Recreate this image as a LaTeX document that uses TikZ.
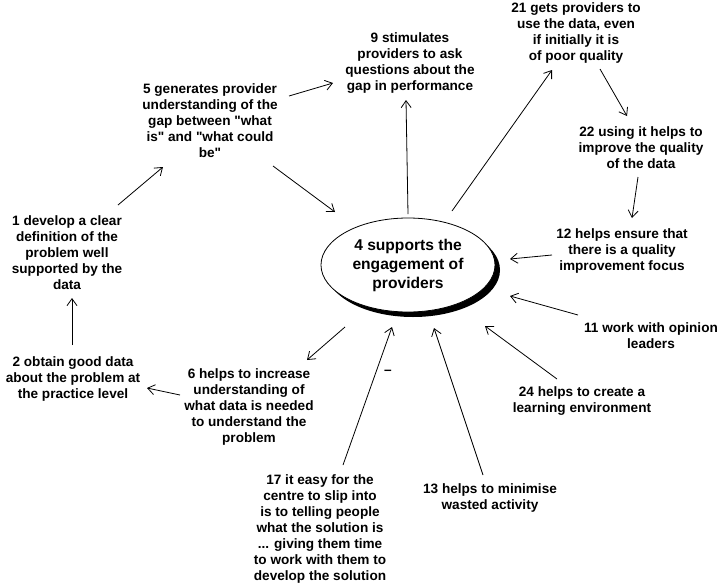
\documentclass[tikz,border=0pt]{standalone}
\usepackage{fontspec}
\setmainfont{Liberation Sans}[Ligatures=TeXOff]
\usetikzlibrary{arrows.meta,shapes.geometric,shadows}
\begin{document}
\begin{tikzpicture}[x=1pt,y=-1pt,
  lbl/.style={font=\bfseries\fontsize{13.6}{16}\selectfont, align=center, inner sep=0pt},
  arr/.style={-{Straight Barb[length=7pt,width=10pt]}, line width=0.8pt}]
\useasboundingbox (0,0) rectangle (723,587);
\node[ellipse, draw, line width=0.8pt, fill=white, minimum width=174pt, minimum height=94pt, inner sep=0pt,
  font=\bfseries\fontsize{15.6}{19}\selectfont, align=center,
  general shadow={fill=black, shadow xshift=5pt, shadow yshift=-5pt}] (n4) at (408,265) {4 supports the\\engagement of\\providers};
\node[lbl] (n5) at (210,121) {5 generates provider\\understanding of the\\gap between "what\\is" and "what could\\be"};
\node[lbl] (n9) at (410,63) {9 stimulates\\providers to ask\\questions about the\\gap in performance};
\node[lbl] (n21) at (576,33) {21 gets providers to\\use the data, even\\if initially it is\\of poor quality};
\node[lbl] (n22) at (641,148) {22 using it helps to\\improve the quality\\of the data};
\node[lbl] (n12) at (622,251) {12 helps ensure that\\there is a quality\\improvement focus};
\node[lbl] (n11) at (651,336) {11 work with opinion\\leaders};
\node[lbl] (n24) at (582,401) {24 helps to create a\\learning environment};
\node[lbl] (n13) at (490,498) {13 helps to minimise\\wasted activity};
\node[lbl] (n17) at (320,529) {17 it easy for the\\centre to slip into\\is to telling people\\what the solution is\\... giving them time\\to work with them to\\develop the solution};
\node[lbl] (n6) at (249,407) {6 helps to increase\\understanding of\\what data is needed\\to understand the\\problem};
\node[lbl] (n2) at (73,379) {2 obtain good data\\about the problem at\\the practice level};
\node[lbl] (n1) at (67,253) {1 develop a clear\\definition of the\\problem well\\supported by the\\data};
\node[lbl] (minus) at (388,372) {–};
% connectors
\draw[arr] ([shift={(51,-48)}]n1.center) -- ([shift={(-47,46)}]n5.center);
\draw[arr] ([shift={(79,-25)}]n5.center) -- ([shift={(-77,20)}]n9.center);
\draw[arr] ([shift={(63,45)}]n5.center) -- ([shift={(-73,-53)}]n4.center);
\draw[arr] ([shift={(0,-51)}]n4.center) -- ([shift={(-4,37)}]n9.center);
\draw[arr] ([shift={(44,-54)}]n4.center) -- ([shift={(-24,37)}]n21.center);
\draw[arr] ([shift={(24,36)}]n21.center) -- ([shift={(-14,-32)}]n22.center);
\draw[arr] ([shift={(-3,29)}]n22.center) -- ([shift={(10,-33)}]n12.center);
\draw[arr] ([shift={(-70,4)}]n12.center) -- ([shift={(102,-6)}]n4.center);
\draw[arr] ([shift={(-73,-21)}]n11.center) -- ([shift={(102,31)}]n4.center);
\draw[arr] ([shift={(-25,-22)}]n24.center) -- ([shift={(77,61)}]n4.center);
\draw[arr] ([shift={(-7,-23)}]n13.center) -- ([shift={(26,63)}]n4.center);
\draw[arr] ([shift={(23,-64)}]n17.center) -- ([shift={(-16,62)}]n4.center);
\draw[arr] ([shift={(-63,62)}]n4.center) -- ([shift={(58,-47)}]n6.center);
\draw[arr] ([shift={(-69,-12)}]n6.center) -- ([shift={(74,9)}]n2.center);
\draw[arr] ([shift={(-1,-34)}]n2.center) -- ([shift={(5,45)}]n1.center);
\end{tikzpicture}
\end{document}
